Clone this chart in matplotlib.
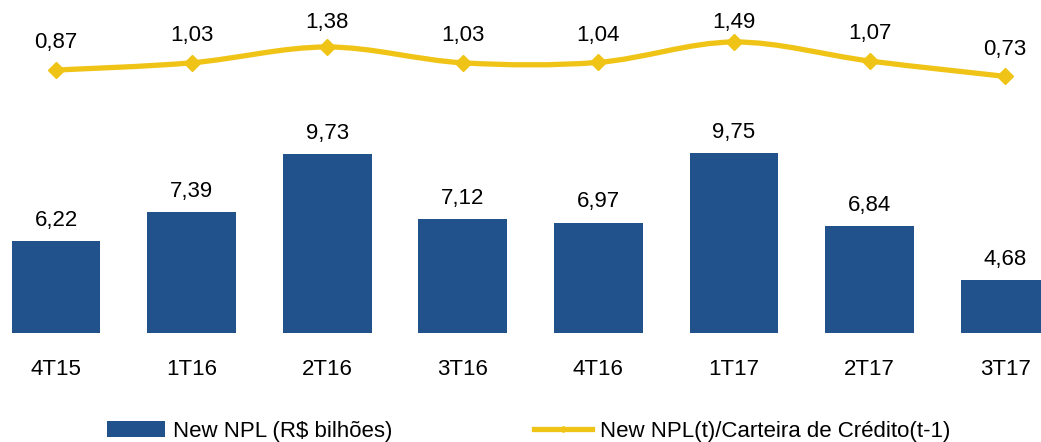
import matplotlib.pyplot as plt
from matplotlib.path import Path
from matplotlib.patches import PathPatch
from matplotlib.lines import Line2D
from matplotlib.patches import Patch

plt.rcParams['font.family'] = ['Liberation Sans', 'DejaVu Sans']

periods = ["4T15", "1T16", "2T16", "3T16", "4T16", "1T17", "2T17", "3T17"]
new_npl = [6.22, 7.39, 9.73, 7.12, 6.97, 9.75, 6.84, 4.68]
npl_ratio = [0.87, 1.03, 1.38, 1.03, 1.04, 1.49, 1.07, 0.73]

blue = "#22528B"
yellow = "#F0C416"


def fmt(v):
    return f"{v:.2f}".replace(".", ",")


def smooth_path(xs, ys):
    # Excel-style smoothed line: cubic bezier segments (catmull-rom tangents)
    n = len(xs)
    verts = [(xs[0], ys[0])]
    codes = [Path.MOVETO]
    for i in range(n - 1):
        x0, y0 = xs[max(i - 1, 0)], ys[max(i - 1, 0)]
        x1, y1 = xs[i], ys[i]
        x2, y2 = xs[i + 1], ys[i + 1]
        x3, y3 = xs[min(i + 2, n - 1)], ys[min(i + 2, n - 1)]
        c1 = (x1 + (x2 - x0) / 6, y1 + (y2 - y0) / 6)
        c2 = (x2 - (x3 - x1) / 6, y2 - (y3 - y1) / 6)
        verts += [c1, c2, (x2, y2)]
        codes += [Path.CURVE4] * 3
    return Path(verts, codes)


fig = plt.figure(figsize=(10.41, 4.42), dpi=100)
ax = fig.add_axes([0, 0.2466, 1, 0.7534])
x = list(range(len(periods)))

ax.bar(x, new_npl, width=0.656, color=blue, zorder=2)
ax.set_xlim(-0.413, 7.264)
ax.set_ylim(2.55, 15.9)
for xi, v in zip(x, new_npl):
    ax.annotate(fmt(v), (xi, v), xytext=(0, 15), textcoords="offset points",
                ha="center", va="center", fontsize=16)

ax.set_xticks(x)
ax.set_xticklabels(periods, fontsize=16)
ax.tick_params(axis="x", length=0, pad=19)
ax.set_yticks([])
for s in ax.spines.values():
    s.set_visible(False)

ax2 = ax.twinx()
ax2.set_ylim(-4.94, 2.418)
ax2.set_yticks([])
for s in ax2.spines.values():
    s.set_visible(False)
ax2.add_patch(PathPatch(smooth_path(x, npl_ratio), facecolor="none",
                        edgecolor=yellow, lw=3.8, capstyle="round", zorder=3))
ax2.plot(x, npl_ratio, linestyle="none", marker="D", markersize=8,
         color=yellow, zorder=4)
for xi, v in zip(x, npl_ratio):
    ax2.text(xi, min(v + 0.6, 1.93), fmt(v), ha="center", va="center", fontsize=16)

handles = [Patch(facecolor=blue, label="New NPL (R$ bilhões)"),
           Line2D([], [], color=yellow, lw=3.8, marker="D", markersize=3,
                  label="New NPL(t)/Carteira de Crédito(t-1)")]
fig.legend(handles=handles, loc="center left", bbox_to_anchor=(0.1028, 0.024),
           ncol=2, frameon=False, fontsize=16, handlelength=2.6,
           handleheight=0.75, handletextpad=0.35, columnspacing=6.4,
           borderaxespad=0, borderpad=0)

fig.savefig("out.png", dpi=100)
